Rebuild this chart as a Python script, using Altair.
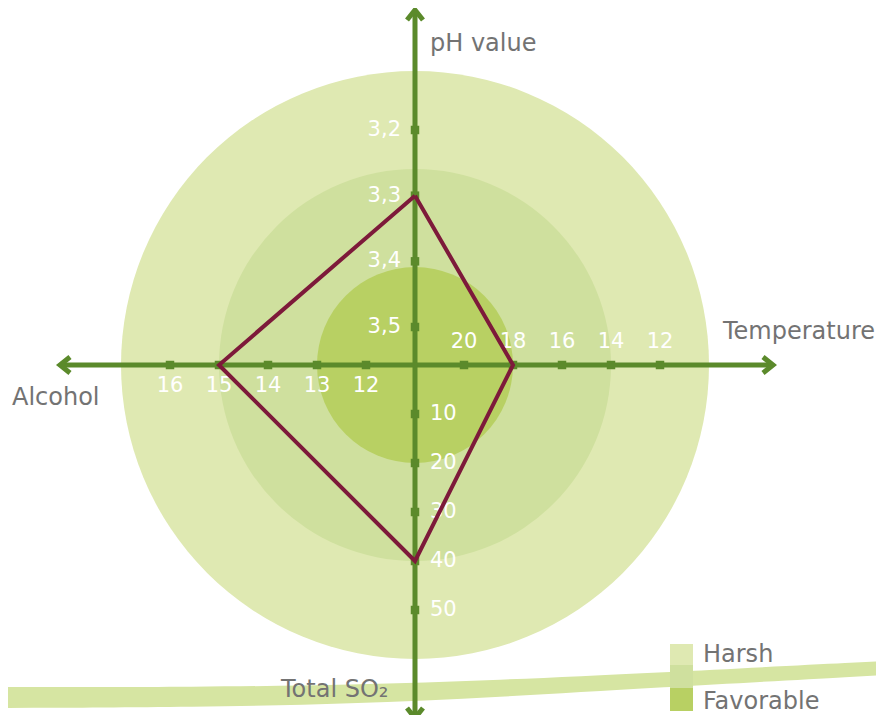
import altair as alt
import pandas as pd

# ---------------- data ----------------
ph_ticks = [3.2, 3.3, 3.4, 3.5]
temp_ticks = [20, 18, 16, 14, 12]
alcohol_ticks = [16, 15, 14, 13, 12]
so2_ticks = [10, 20, 30, 40, 50]

ph_labels = ["3,2", "3,3", "3,4", "3,5"]
temp_labels = ["20", "18", "16", "14", "12"]
alcohol_labels = ["16", "15", "14", "13", "12"]
so2_labels = ["10", "20", "30", "40", "50"]

# wine sample (red polygon)
sample_axes = ["pH value", "Temperature", "Total SO2", "Alcohol"]
sample_values = [3.3, 18, 40, 15]

# zones, expressed in alcohol units along the radius
zone_names = ["Harsh", "Moderate", "Favorable"]
zone_limits_alcohol = [17, 15, 13]
zone_colors = ["#dfe9b2", "#cfe09e", "#b8d063"]

# decorative swoosh at the bottom (x, upper edge, lower edge)
band_x = [-415, -215, -65, 85, 235, 469]
band_top = [-322, -322, -320, -315, -308, -296]
band_bottom = [-343, -342, -339, -332, -323, -310]

GREEN = "#5b8a2b"
RED = "#7d1a3a"
GRAY = "#737373"
FONT = "DejaVu Sans"

# ---------------- radial scales for each axis ----------------
def r_ph(v):
    return 38 + (3.5 - v) * 656.7

def r_temp(v):
    return (22 - v) * 24.5

def r_alc(v):
    return (v - 11) * 49

def r_so2(v):
    return v * 4.9

axis_dir = {
    "pH value": (0, 1, r_ph),
    "Temperature": (1, 0, r_temp),
    "Total SO2": (0, -1, r_so2),
    "Alcohol": (-1, 0, r_alc),
}

def pos(axis, v):
    dx, dy, f = axis_dir[axis]
    r = f(v)
    return dx * r, dy * r

X = alt.X("x:Q", scale=alt.Scale(domain=[-407, 461], nice=False, zero=False), axis=None)
Y = alt.Y("y:Q", scale=alt.Scale(domain=[-350, 357], nice=False, zero=False), axis=None)

# band
band_df = pd.DataFrame({"x": band_x, "y": band_top, "y2": band_bottom})
band = alt.Chart(band_df).mark_area(color="#d6e5a2", interpolate="basis").encode(
    x=X, y=Y, y2="y2:Q"
)

# zone circles
circ_df = pd.DataFrame({
    "x": [0] * 3, "y": [0] * 3,
    "zone": zone_names,
    "size": [(2 * r_alc(v)) ** 2 for v in zone_limits_alcohol],
    "color": zone_colors,
    "ord": [0, 1, 2],
})
circles = alt.Chart(circ_df).mark_point(shape="circle", filled=True, opacity=1, strokeWidth=0).encode(
    x=X, y=Y,
    size=alt.Size("size:Q", scale=None, legend=None),
    color=alt.Color("color:N", scale=None, legend=None),
    order=alt.Order("ord:Q"),
)

# axis rules
ext = {"pH value": 355, "Temperature": 358, "Total SO2": 353, "Alcohol": 355}
rule_rows = []
arrow_rows = []
angles = {"pH value": 0, "Temperature": 90, "Total SO2": 180, "Alcohol": 270}
for a, (dx, dy, f) in axis_dir.items():
    rule_rows.append({"x": 0, "y": 0, "x2": dx * ext[a], "y2": dy * ext[a]})
    arrow_rows.append({"x": dx * ext[a], "y": dy * ext[a], "angle": angles[a]})
rules = alt.Chart(pd.DataFrame(rule_rows)).mark_rule(color=GREEN, strokeWidth=5).encode(
    x=X, y=Y, x2="x2:Q", y2="y2:Q"
)
arrows = alt.Chart(pd.DataFrame(arrow_rows)).mark_point(
    shape="M -0.8 1 L 0 0 L 0.8 1", filled=False, stroke=GREEN, strokeWidth=5,
    size=400, opacity=1, strokeJoin="miter",
).encode(x=X, y=Y, angle=alt.Angle("angle:Q", scale=None))

# ticks and labels
def tick_df(axis, vals, labels):
    rows = []
    for v, l in zip(vals, labels):
        x, y = pos(axis, v)
        rows.append({"x": x, "y": y, "label": l})
    return pd.DataFrame(rows)

ph_df = tick_df("pH value", ph_ticks, ph_labels)
temp_df = tick_df("Temperature", temp_ticks, temp_labels)
alc_df = tick_df("Alcohol", alcohol_ticks, alcohol_labels)
so2_df = tick_df("Total SO2", so2_ticks, so2_labels)
all_ticks = pd.concat([ph_df, temp_df, alc_df, so2_df])

ticks = alt.Chart(all_ticks).mark_point(shape="square", filled=True, color=GREEN, size=72, opacity=1).encode(
    x=X, y=Y
)

def lab(df, **kw):
    return alt.Chart(df).mark_text(color="white", font=FONT, fontSize=21, **kw).encode(
        x=X, y=Y, text="label:N"
    )

labels = alt.layer(
    lab(ph_df, align="right", baseline="middle", dx=-14),
    lab(temp_df, align="center", baseline="middle", dy=-23),
    lab(alc_df, align="center", baseline="middle", dy=21),
    lab(so2_df, align="left", baseline="middle", dx=15),
)

# sample polygon
poly_rows = []
for i, (a, v) in enumerate(zip(sample_axes + sample_axes[:1], sample_values + sample_values[:1])):
    x, y = pos(a, v)
    poly_rows.append({"x": x, "y": y, "o": i})
poly = alt.Chart(pd.DataFrame(poly_rows)).mark_line(color=RED, strokeWidth=4, strokeJoin="miter").encode(
    x=X, y=Y, order="o:Q"
)

# axis titles
title_df = pd.DataFrame([
    {"x": 15, "y": 321, "t": "pH value"},
    {"x": 308, "y": 33, "t": "Temperature"},
    {"x": -403, "y": -33, "t": "Alcohol"},
    {"x": -134, "y": -325, "t": "Total SO₂"},
])
titles = alt.Chart(title_df).mark_text(color=GRAY, font=FONT, fontSize=24, align="left", baseline="middle").encode(
    x=X, y=Y, text="t:N"
)

# legend
leg_sq = pd.DataFrame({
    "x": [266.5] * 3,
    "y": [-290.5, -311.5, -334.5],
    "color": zone_colors,
})
legend_squares = alt.Chart(leg_sq).mark_point(shape="square", filled=True, opacity=1, size=23 * 23, strokeWidth=0).encode(
    x=X, y=Y, color=alt.Color("color:N", scale=None, legend=None)
)
leg_txt = pd.DataFrame({"x": [288, 288], "y": [-290, -337], "t": ["Harsh", "Favorable"]})
legend_text = alt.Chart(leg_txt).mark_text(color=GRAY, font=FONT, fontSize=24, align="left", baseline="middle").encode(
    x=X, y=Y, text="t:N"
)

chart = alt.layer(
    band, circles, rules, arrows, ticks, labels, poly, titles, legend_squares, legend_text
).properties(
    width=868, height=707, padding=0, autosize=alt.AutoSizeParams(type="none")
).configure_view(stroke=None)

chart.save("out.html", embed_options={"renderer": "svg", "actions": False})
